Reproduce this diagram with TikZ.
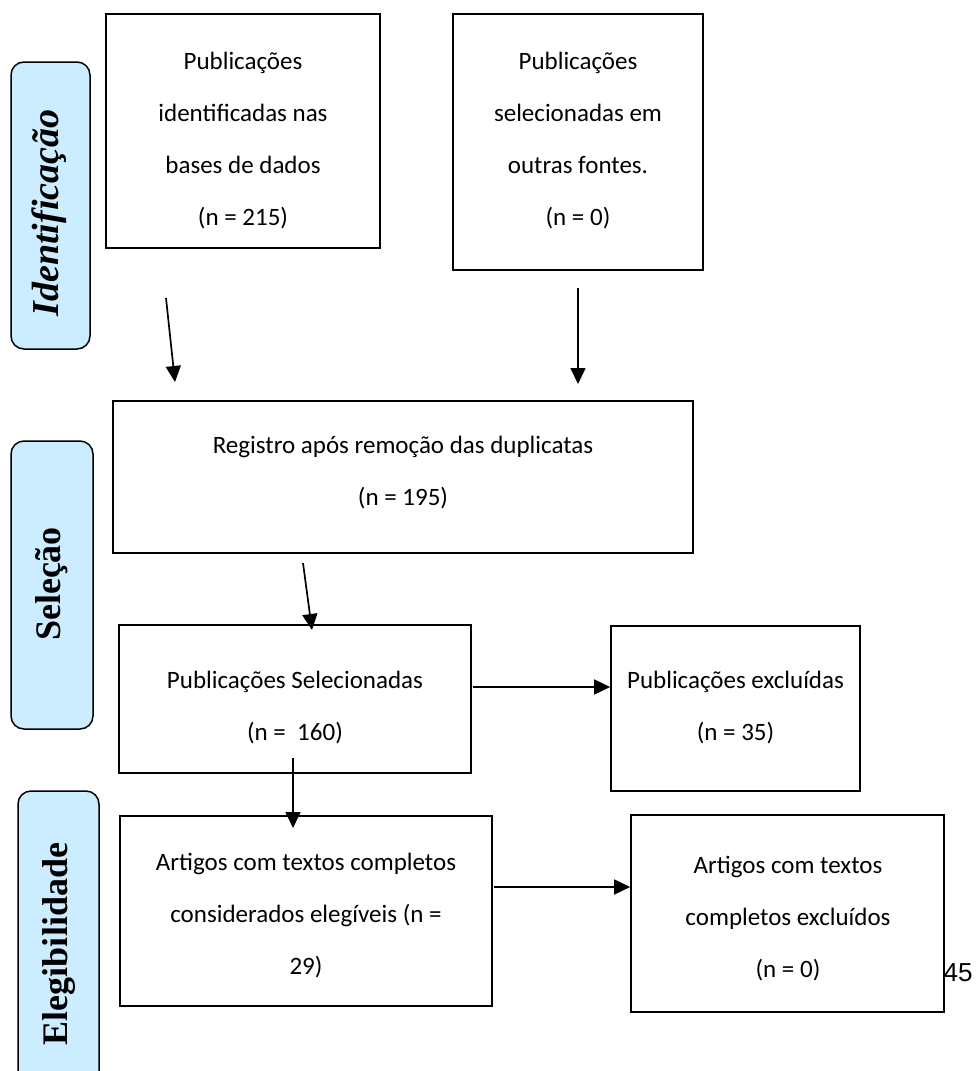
\documentclass[tikz,border=0pt]{standalone}
\usepackage{fontspec}
\setmainfont{Carlito}
\newfontfamily\lblfont{Liberation Serif}
\newfontfamily\numfont{Liberation Sans}
\usetikzlibrary{arrows.meta}
\definecolor{lblblue}{RGB}{204,236,255}
\begin{document}
\begin{tikzpicture}[x=1pt,y=-1pt,
  box/.style={draw=black,line width=1.7pt,rectangle,inner sep=0pt},
  txt/.style={align=center,inner sep=0pt,font=\fontsize{25}{52}\selectfont},
  lbl/.style={draw=black,line width=1.5pt,fill=lblblue,rounded corners=13pt,inner sep=0pt},
  lbltxt/.style={rotate=90,inner sep=0pt,font=\lblfont\bfseries\fontsize{36}{40}\selectfont},
  arr/.style={line width=1.7pt,-{Triangle[length=16pt,width=15pt]}}]
\useasboundingbox[fill=white] (0,0) rectangle (979,1071);

% side labels
\node[lbl,minimum width=79pt,minimum height=287pt] (L1) at (50.5,205.5) {};
\node[lbltxt,font=\lblfont\bfseries\itshape\fontsize{38}{40}\selectfont] (lt1) at (49,213) {Identificação};
\node[lbl,minimum width=82pt,minimum height=288pt] (L2) at (52,585) {};
\node[lbltxt] (lt2) at (52,584) {Seleção};
\node[lbl,minimum width=81pt,minimum height=308pt] (L3) at (58.5,945) {};
\node[lbltxt] (lt3) at (58.5,944) {Elegibilidade};

% boxes
\node[box,minimum width=274pt,minimum height=234pt] (A) at (243,131) {};
\node[txt] (tA) at (243,140.5) {Publicações\\identificadas nas\\bases de dados\\(n = 215)};
\node[box,minimum width=250pt,minimum height=256pt] (B) at (578,142) {};
\node[txt] (tB) at (578,140.5) {Publicações\\selecionadas em\\outras fontes.\\(n = 0)};
\node[box,minimum width=580pt,minimum height=152pt] (C) at (403,477) {};
\node[txt] (tC) at (403,473) {Registro após remoção das duplicatas\\(n = 195)};
\node[box,minimum width=352pt,minimum height=148pt] (D) at (295,699) {};
\node[txt] (tD) at (295,707.5) {Publicações Selecionadas\\(n =\ \ 160)};
\node[box,minimum width=249pt,minimum height=165pt] (E) at (735.5,708.5) {};
\node[txt] (tE) at (735.5,708) {Publicações excluídas\\(n = 35)};
\node[box,minimum width=372pt,minimum height=190pt] (F) at (306,911) {};
\node[txt] (tF) at (306,916) {Artigos com textos completos\\considerados elegíveis (n =\\29)};
\node[box,minimum width=313pt,minimum height=197pt] (G) at (787.5,913.5) {};
\node[txt] (tG) at (788,919) {Artigos com textos\\completos excluídos\\(n = 0)};

\node[inner sep=0pt,font=\numfont\fontsize{26}{30}\selectfont] (pg) at (958,973) {45};

% connectors
\coordinate (a1s) at (166,298);
\coordinate (a1e) at (175,382);
\draw[arr] (a1s) -- (a1e);
\coordinate (a2s) at (578,288);
\coordinate (a2e) at (578,384);
\draw[arr] (a2s) -- (a2e);
\coordinate (a3s) at (303,563);
\coordinate (a3e) at (312,630);
\draw[arr] (a3s) -- (a3e);
\coordinate (a4s) at (473,687);
\draw[arr] (a4s) -- (a4s -| E.west);
\coordinate (a5s) at (293,758);
\coordinate (a5e) at (293,828);
\draw[arr] (a5s) -- (a5e);
\coordinate (a6s) at (494,887);
\draw[arr] (a6s) -- (a6s -| G.west);
\end{tikzpicture}
\end{document}
